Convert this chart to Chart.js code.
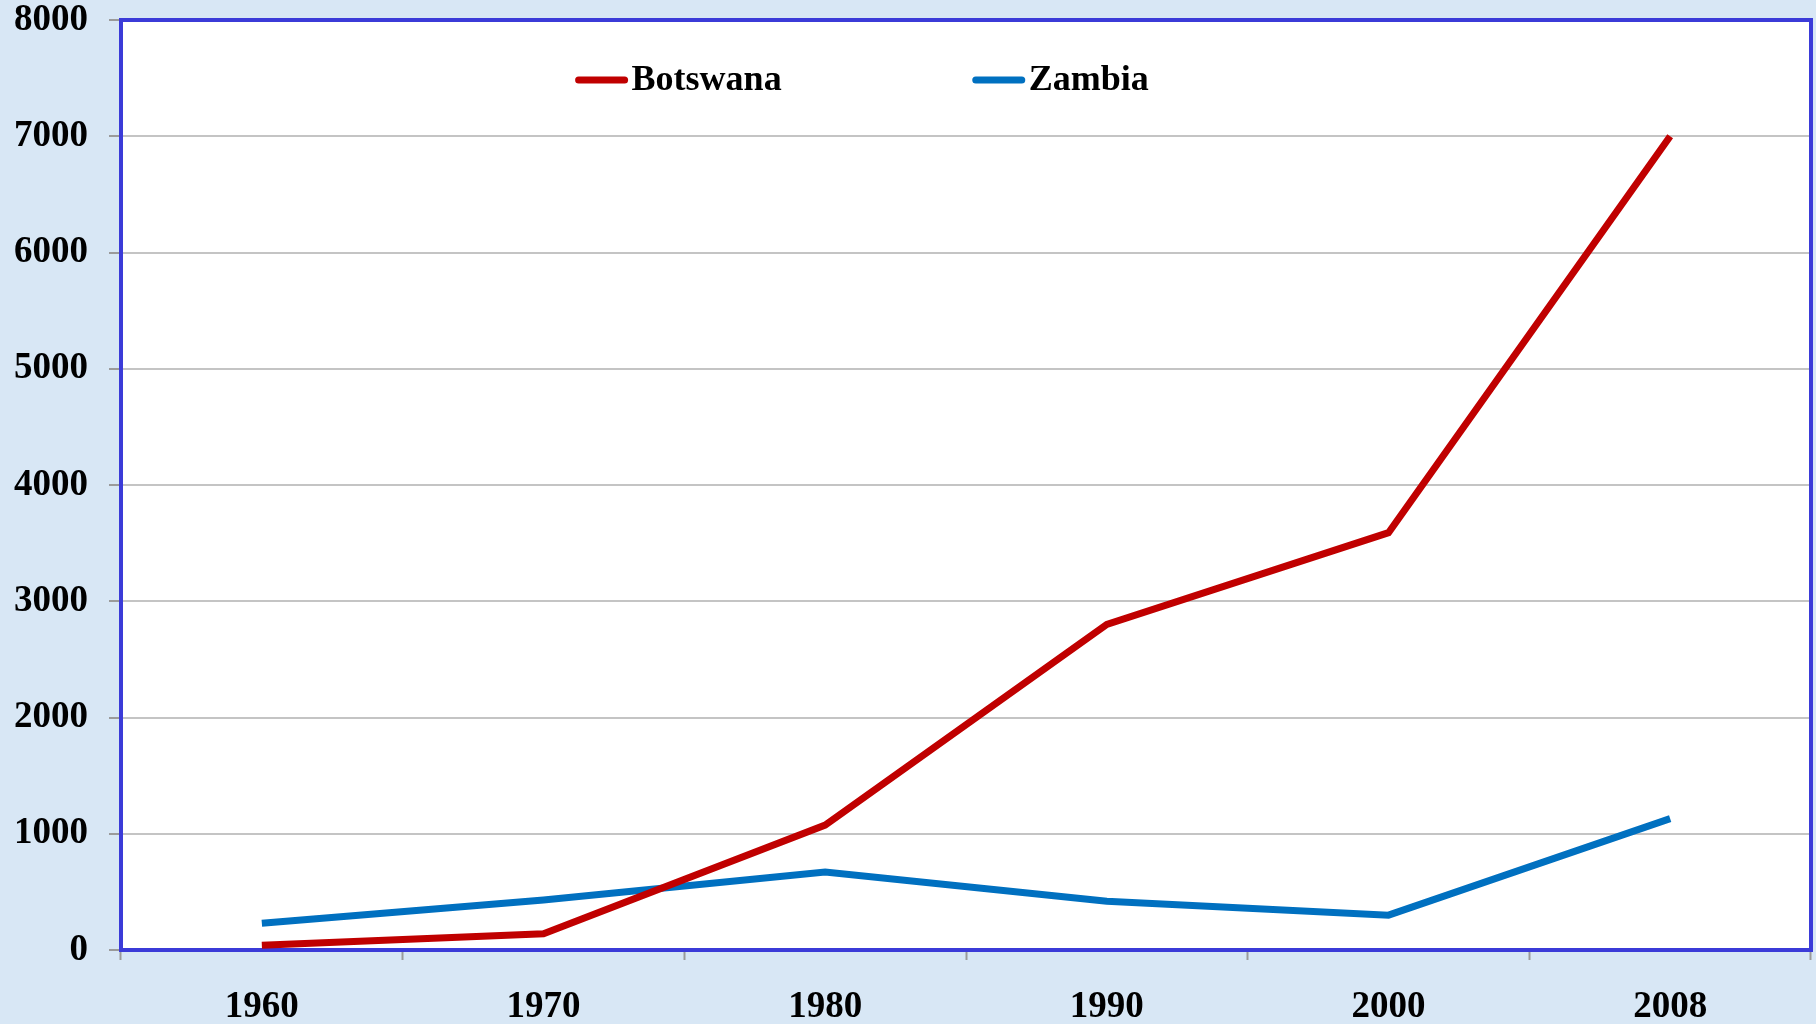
<!DOCTYPE html>
<html>
<head>
<meta charset="utf-8">
<script src="https://cdn.jsdelivr.net/npm/chart.js@4.4.1/dist/chart.umd.min.js"></script>
<style>
  html, body { margin: 0; padding: 0; background: #d8e7f5; }
  #wrap { width: 1816px; height: 1024px; }
</style>
</head>
<body>
<div id="wrap"><canvas id="chartCanvas" width="1816" height="1024"></canvas></div>
<script>
const years = ['1960', '1970', '1980', '1990', '2000', '2008'];
const botswana = [40, 140, 1075, 2800, 3590, 7000];
const zambia = [230, 430, 670, 420, 300, 1130];
const yTicks = [0, 1000, 2000, 3000, 4000, 5000, 6000, 7000, 8000];

const serif = "'Liberation Serif', 'Times New Roman', serif";

// page background + white plot area + blue frame
const framePlugin = {
    id: 'frame',
    beforeDraw(chart) {
        const ctx = chart.ctx;
        const a = chart.chartArea;
        ctx.save();
        ctx.fillStyle = '#d8e7f5';
        ctx.fillRect(0, 0, chart.width, chart.height);
        ctx.fillStyle = '#ffffff';
        ctx.fillRect(a.left, a.top, a.right - a.left, a.bottom - a.top);
        ctx.restore();
    },
    beforeDatasetsDraw(chart) {
        const ctx = chart.ctx;
        const a = chart.chartArea;
        ctx.save();
        ctx.strokeStyle = '#3b3bd8';
        ctx.lineWidth = 4;
        ctx.strokeRect(a.left, a.top, a.right - a.left, a.bottom - a.top);
        ctx.restore();
    }
};

// legend drawn inside the plot, near the top
const innerLegend = {
    id: 'innerLegend',
    afterDraw(chart) {
        const ctx = chart.ctx;
        const a = chart.chartArea;
        const w = a.right - a.left;
        const starts = [0.269, 0.504];
        const y = a.top + 60;
        ctx.save();
        ctx.font = 'bold 36px ' + serif;
        ctx.textBaseline = 'middle';
        chart.data.datasets.forEach((ds, i) => {
            const x = a.left + w * starts[i];
            ctx.strokeStyle = ds.borderColor;
            ctx.lineWidth = 7;
            ctx.lineCap = 'round';
            ctx.beginPath();
            ctx.moveTo(x + 3, y);
            ctx.lineTo(x + 49, y);
            ctx.stroke();
            ctx.fillStyle = '#000';
            ctx.fillText(ds.label, x + 56, y + 1);
        });
        ctx.restore();
    }
};

const ctx = document.getElementById('chartCanvas').getContext('2d');
new Chart(ctx, {
    type: 'line',
    data: {
        labels: years,
        datasets: [
            { label: 'Botswana', data: botswana, borderColor: '#c00000', borderWidth: 7, pointRadius: 0, tension: 0 },
            { label: 'Zambia', data: zambia, borderColor: '#0070c0', borderWidth: 7, pointRadius: 0, tension: 0 }
        ]
    },
    options: {
        responsive: false,
        animation: false,
        layout: { padding: { top: 20, right: 5, left: 0, bottom: 0 } },
        plugins: { legend: { display: false }, tooltip: { enabled: false } },
        scales: {
            x: {
                offset: true,
                grid: { offset: true, drawOnChartArea: false, drawTicks: true, tickLength: 10, tickColor: '#9a9a9a', tickWidth: 2 },
                border: { display: false },
                ticks: { color: '#000', padding: 25, font: { family: serif, size: 37, weight: 'bold' } },
                afterFit(scale) { scale.height = 74; scale.paddingLeft = 0; scale.paddingRight = 0; }
            },
            y: {
                min: 0,
                max: 8000,
                afterBuildTicks(scale) { scale.ticks = yTicks.map(v => ({ value: v })); },
                grid: { color: '#c4c4c4', lineWidth: 2, tickLength: 12, tickColor: '#9a9a9a' },
                border: { display: false },
                ticks: {
                    color: '#000', padding: 21, font: { family: serif, size: 37, weight: 'bold' },
                    callback: v => String(v)
                },
                afterFit(scale) { scale.width = 121; scale.paddingTop = 0; scale.paddingBottom = 0; }
            }
        }
    },
    plugins: [framePlugin, innerLegend]
});
</script>
</body>
</html>
